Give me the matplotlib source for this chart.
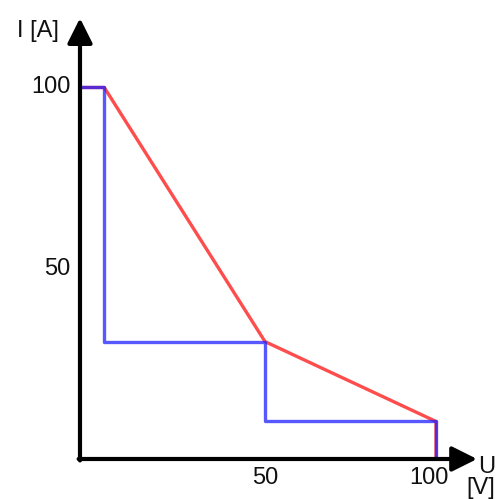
import matplotlib
matplotlib.use("Agg")
import matplotlib.pyplot as plt

# data (U in V, I in A)
step_u = [3, 3, 50, 50, 100, 100]
step_i = [100, 30, 30, 8, 8, 0]
line_u = [3, 50, 100, 100]
line_i = [100, 30, 8, 0]
x_ticks = [50, 100]
x_tick_labels = ["50", "100"]
y_ticks = [50, 100]
y_tick_labels = ["50", "100"]

# axis origin position (in data units) and limits
X0, Y0 = -4.1, -2.34

fig = plt.figure(figsize=(4.98, 4.99), dpi=100)
ax = fig.add_axes([0, 0, 1, 1])
ax.set_xlim(-27.49, 118.13)
ax.set_ylim(-13.36, 124.1)
ax.axis("off")

font = dict(family=["Liberation Sans", "DejaVu Sans"], fontsize=17, color="#111111")

# curves: both start at the I axis and end at the U axis
ru = [X0] + line_u
ri = [100] + line_i[:-1] + [Y0]
bu = [X0] + step_u
bi = [100] + step_i[:-1] + [Y0]
ax.plot(ru, ri, color="#ff2020", alpha=0.8, lw=2.4, solid_capstyle="butt", zorder=2)
ax.plot(bu, bi, color="#2020ff", alpha=0.75, lw=2.4, solid_capstyle="butt", zorder=3)

# axes with arrows
arrow = dict(arrowstyle="-|>", mutation_scale=38, lw=3, color="black",
             shrinkA=0, shrinkB=0)
ax.annotate("", xy=(X0, 119.1), xytext=(X0, Y0 - 0.4), arrowprops=arrow, zorder=4)
ax.annotate("", xy=(112.0, Y0), xytext=(X0 - 0.4, Y0), arrowprops=arrow, zorder=4)

# tick labels
for v, lab in zip(y_ticks, y_tick_labels):
    ax.annotate(lab, (X0, v), xytext=(-7, 0), textcoords="offset points",
                ha="right", va="center", **font)
x_offsets = [0, -5]
for v, lab, dx in zip(x_ticks, x_tick_labels, x_offsets):
    ax.annotate(lab, (v, Y0), xytext=(dx, -13.5), textcoords="offset points",
                ha="center", va="center", **font)

# axis titles
ax.text(-16.3, 115.6, "I [A]", ha="center", va="center", **font)
ax.text(114.9, -4.6, "U", ha="center", va="center", **font)
ax.text(113.0, -10.2, "[V]", ha="center", va="center", **font)

fig.savefig("out.png", dpi=100)
